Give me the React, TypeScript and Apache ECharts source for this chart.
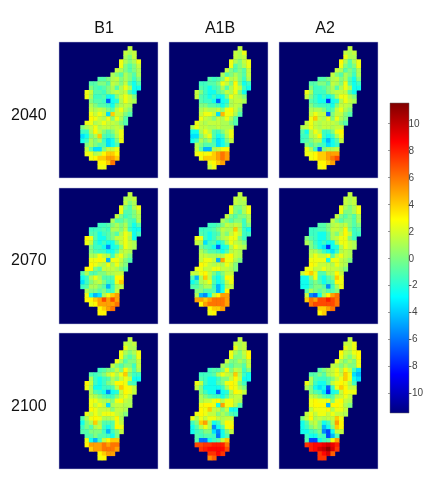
import React, { useEffect, useRef } from "react";
import * as echarts from "echarts";

const scenarios = ["B1", "A1B", "A2"];
const years = ["2040", "2070", "2100"];
const colTicks = [-10, -8, -6, -4, -2, 0, 2, 4, 6, 8, 10];
const jet = ["#00007f", "#0000ff", "#007fff", "#00ffff", "#7fff7f", "#ffff00", "#ff7f00", "#ff0000", "#7f0000"];
const COLS = 23;
const ROWS = 31;
const rowStart = [16, 15, 15, 14, 14, 13, 12, 9, 7, 7, 6, 6, 7, 7, 7, 7, 7, 6, 5, 5, 5, 5, 6, 6, 6, 7, 9, 9];

const b1y2040 = [[1.5],[1.5,1,1.5],[1,0,1.5],[2.5,1,0,1,2.5],[2.5,0,-1,0,1.5],[1.5,1,0,-1,0,1],[1,0,-1,1,0,-1,1],
[-1,-1,0,1,1.5,0,1,0,-1.5,0],[-1,-1,0,0,-1,1.5,1,0,1.5,-1,-2.5,-1],[0,-1,-1.5,-1,0,1,-1,1,2.5,1,-2.5,-2.5],
[2.5,1.5,-1,-1,-1.5,0,1,1.5,1,1.5,-1,-2.5],[2.5,1,-1.5,-1.5,-1,-2.5,-2.5,0,1.5,2.5,1.5,0],[0,-1,-1,-1.5,-6.5,-2.5,-2,1,2.5,1.5,1],
[1,0,-1,-1,-1.5,-2.5,0,1,1.5,1],[1.5,1,1.5,1,0,-1,1.5,2.5,1,0],[2.5,1.5,2.5,1.5,-3.5,4,1.5,1.5,0,-1],[3,2.5,1.5,1,2.5,0,2.5,1,-1],
[2.5,2.5,1,1.5,2.5,1.5,1.5,1,0,-1],[0,1,1.5,2.5,1,1.5,1.5,1,1.5,1],[-1.5,-1.5,1,3,1.5,0,-1,0,1.5,2.5],[-3.5,-2.5,0,1,4,-1,-1.5,-1,1,2.5],
[-2.5,-1.5,1,0,1,-1.5,-3.5,-2.5,0,2.5],[0,1,0,-1,-1,-3.5,-2.5,-1],[1.5,-1,-3.5,-3.5,0,1.5,1.5,2.5],[2.5,2.5,1,1.5,3,4,4,3],
[2.5,3,4,4,5,5,4],[3,3,4,6],[2.5,2.5]];
const a1by2040 = [[1.5],[1.5,1,2.5],[1.5,1,1.5],[2.5,1,0,1.5,2.5],[2.5,-1,0,1,2.5],[1.5,0,-1,0,-1,1.5],[1,-1,0,1,0,-1,1.5],
[-1,-1.5,-1,0,2.5,1,1.5,0,-1.5,1],[-1.5,-1.5,-1,-1,0,2.5,1.5,0,3,0,-2.5,-1.5],[-1,-1.5,-2.5,-1.5,-1,1,-1,1,2.5,1.5,-1.5,-2.5],
[1.5,0,-1.5,-2.5,-2.5,-1,0,1.5,1,2.5,0,-2.5],[1.5,-1,-1.5,-2.5,-1.5,-2.5,-2.5,0,2.5,1.5,1,0],[-1,-1.5,-1.5,-2.5,-6.5,-2.5,-2,1,1.5,1.5,1],
[0,0,-1,-1,-1.5,-2.5,-1,1,1.5,1],[1,1.5,1,1,1.5,0,2.5,3,1.5,0],[1.5,2.5,2.5,1.5,-3.5,4.5,2.5,2.5,1,-1],[2.5,1.5,1,0,1.5,1,2.5,1,-1],
[2.5,1.5,1,1.5,1.5,1.5,1,1,0,-1],[1,2.5,1.5,1.5,1,1,1.5,1,1,1],[-2.5,-2.5,1,2.5,1.5,-1,-1.5,0,1.5,2.5],[-3.5,-3.5,0,1.5,2.5,-1,-2.5,-1.5,1,2.5],
[-2.5,-1.5,1,0,1,-1.5,-3.5,-2.5,0,1.5],[1,0,-1,-1,-1,-3.5,-2.5,-1],[1.5,-1,-4.5,-4.5,1,1.5,2.5,3],[2.5,3,2.5,3,4,5,6,5],
[2.5,4,4,4,5,6,5],[2.5,3,4,5],[1.5,2.5]];
const a2y2040 = [[1.5],[1.5,1,1.5],[2.5,1,1],[3,1,-1,1,2.5],[2.5,0,-1,0,2.5],[1.5,1,-1,0,-1,1],[1.5,0,-1,1,0,-1.5,1],
[-1,-1,0,1,1.5,0,1,-1,-2.5,0],[-1,-1,0,0,-1,1.5,1,0,2.5,-1,-2.5,-1.5],[0,-1.5,-1.5,-1,0,1,-1,1,2.5,1,-2.5,-2.5],
[2.5,1,-1.5,-1.5,-1.5,0,1,1.5,1.5,1.5,-1,-2.5],[1.5,0,-1.5,-2.5,-1.5,-2.5,-1.5,1,2.5,2.5,1,0],[-1,-1.5,-2.5,-2.5,-7.5,-2.5,-2,1,2.5,1.5,1],
[0,-1,-1.5,-1.5,-1.5,-2.5,0,1.5,1.5,1],[1,1,1,0,-1.5,-1,1.5,2.5,1,0],[1.5,2.5,1.5,1.5,-6.5,0,1.5,1.5,0,-1],[2.5,4,1.5,1,2.5,0,2.5,1,0],
[1.5,2.5,1.5,1,1.5,1.5,1.5,1,0,-1],[1,1.5,2.5,1.5,1,1.5,1.5,1,1.5,1.5],[-1,-2.5,1,2.5,1.5,-1.5,-1.5,0,2.5,3],[-1.5,-1.5,1,1.5,3,-1.5,-2.5,-1.5,1,2.5],
[-1.5,-1,0,1,1,-2.5,-4.5,-2.5,-1,1.5],[0,-1,0,-1,-1.5,-3.5,-2.5,-1.5],[2.5,1,-1.5,-6.5,0,1,1,1.5],[2.5,2.5,3,4,4,5,5,5],
[2.5,3,4,4,5,6,7],[3,3,4,5],[2.5,3]];
const b1y2070 = [[1.5],[1,1,1.5],[1.5,0,1],[2.5,0,-1,1,2.5],[2.5,-1,-1,0,1.5],[1.5,0,-1.5,-1,0,1],[1,-1,-1,0,-1,-1.5,1],
[-1.5,-1.5,-1,0,1,0,1,-1,-2.5,-1],[-1.5,-1.5,-1.5,-1,-1.5,1,1,0,1.5,-1.5,-2.5,-2.5],[-1,-1,-2.5,-1.5,-1,0,-1,1,2.5,1.5,-2.5,-1.5],
[3,2.5,-1,-2.5,-2.5,-1,0,1.5,1.5,2.5,1,-2.5],[2.5,1.5,-1.5,-2.5,-1.5,-2.5,-2.5,0,1.5,2.5,1.5,1],[0,-1.5,-1.5,-2.5,-5.5,-2.5,-2,0,2.5,1.5,1],
[0,-1,-1.5,-1.5,-2.5,-2.5,-1,1,1.5,1],[1,1,2.5,1.5,1,-1.5,1.5,2.5,1,0],[2.5,2.5,3,2.5,-4.5,2.5,2.5,1.5,0,-1],[3,2.5,1.5,1,2.5,1,2.5,1,0],
[3,3,0,-1,1.5,1.5,1.5,1,0,-1],[-1,1,-1,-1,0,0,1,1,1.5,1.5],[-2.5,-1.5,1,2.5,1,-1,-1,-1,3,3],[-3.5,-1.5,0,1,1.5,0,-1.5,-1.5,2.5,4],
[-1.5,-1,1,1,0,-1,-4.5,-1.5,1,1.5],[1,0,0,-1,0,-1.5,-1.5,1.5],[2.5,-2.5,-4.5,-3.5,1,2.5,4,5],[3,3,4,5,7,5,7,5],
[2.5,3,5,5,5,5,6],[3,4,5,6],[3,3]];
const a1by2070 = [[1.5],[1.5,1,1.5],[1.5,1,1],[2.5,0,0,1,2.5],[2.5,0,-1,1,2.5],[1.5,0,-1,0,0,1],[1,0,-1,0,0,-1.5,1],
[-1.5,-1.5,-1,0,1.5,1,1.5,1,-1.5,0],[-1.5,-1.5,-1.5,-1,0,1.5,1,1,4,1,-1.5,-2.5],[-1,-1.5,-2.5,-1.5,-1,1,0,1.5,2.5,1.5,-1.5,-1.5],
[2.5,2.5,-1.5,-2.5,-1.5,0,1,1.5,2.5,2.5,0,-1.5],[1.5,1,-3.5,-1.5,-1,-2.5,-1.5,1,2.5,1.5,1,0],[0,-1,-1.5,-2.5,-6.5,-2.5,-2,1,2.5,1.5,1],
[1,0,-1,-1,-1.5,-2.5,-1,1,1.5,1],[1.5,1.5,1,1,1,1,2.5,3,1.5,1],[1.5,2.5,2.5,1.5,-4.5,5,2.5,2.5,1,0],[3,2.5,1.5,1,1.5,1,2.5,1.5,0],
[2.5,2.5,1.5,1.5,2.5,2.5,1.5,1.5,1,0],[1.5,1.5,2.5,3,1.5,0,-1.5,0,1.5,1.5],[-1,-4.5,1,4,1.5,-1.5,-2.5,-1,3,2.5],[-2.5,-1.5,1,1.5,2.5,-1,-2.5,-1.5,1.5,2.5],
[-1,-1,0,1,1,-1.5,-4.5,-2.5,1,1.5],[0,0,-1,-1,-1,-4.5,-2.5,3],[1,-4.5,-5.5,-2.5,1.5,3,5,5],[5,5,4,5,6,6,6,5],
[3,5,6,6,6,6,5],[3,4,4,5],[2.5,3]];
const a2y2070 = [[1.5],[1.5,1,1.5],[1.5,1,1.5],[2.5,1,0,1,2.5],[2.5,0,0,1,2.5],[1.5,0,-1,0,-1,1],[1.5,0,-1,0,0,-1,1],
[-1,-1,0,1,1.5,1,1.5,0,-1,0],[-1.5,-1.5,-1,-1,0,1.5,1.5,1,3,0,-1.5,-1],[-1.5,-1.5,-2.5,-2.5,-1,1,0,1.5,3,1.5,-1.5,-1.5],
[0,-1,-1.5,-2.5,-2.5,-1,1,1.5,2.5,2.5,0,-1.5],[1,0,-1.5,-2.5,-1.5,-2.5,-2.5,1,2.5,2.5,1.5,1],[0,-1,-2.5,-3.5,-7.5,-2.5,-2,1,2.5,1.5,1],
[1,1,0,-1.5,-2.5,-3.5,-1.5,1,1.5,1],[1.5,2.5,1.5,1.5,2.5,-1,1.5,2.5,1.5,1],[2.5,2.5,2.5,2.5,-2.5,2.5,2.5,1.5,1,0],[3,2.5,1.5,1.5,1.5,1,2.5,1.5,1],
[2.5,2.5,1.5,1.5,2.5,1.5,1.5,1.5,1,0],[1.5,3,4,2.5,-1,-1,1,1,3,1.5],[-2.5,-2.5,0,2.5,-1.5,-2.5,-1,0,4,2.5],[-2.5,-2.5,-1,0,-1,-2.5,-1.5,-1,3,2.5],
[-2.5,-2.5,-1,0,0,-1,-5.5,-1.5,1,2.5],[-1,1,0,-1,0,-1,-1,0],[1.5,-5.5,-6.5,-2.5,1,3,5,6],[4,6,5,7,7,8,7,6],
[6,7,7,7,7,7,6],[4,4,5,6],[3,4]];
const b1y2100 = [[1.5],[1.5,1,1.5],[2.5,1,1],[2.5,1,0,1,2.5],[2.5,0,-1,0,2.5],[2.5,1,-1,0,0,1.5],[1.5,0,-1,0,0,-1.5,1.5],
[-1.5,-1,0,0,1.5,0,3,1,-1,1],[-1,-1.5,-1,0,1.5,2.5,1,2.5,4,0,-1.5,-1.5],[1,-1.5,-2.5,-1.5,-1,1,0,1.5,2.5,1.5,-2.5,-2.5],
[3,1.5,-1.5,-2.5,-1.5,0,1,3,3,2.5,-1,-1.5],[2.5,1,-2.5,-2.5,-1.5,-1.5,-1,1.5,4,3,2.5,1.5],[1,-1,-1.5,-2.5,-5.5,-2.5,-2,1.5,3,2.5,1.5],
[1.5,1,0,-1,-1.5,-1.5,0,1.5,2.5,1.5],[2.5,2.5,1.5,1,1,0,2.5,3,1.5,1],[2.5,1.5,2.5,1.5,-3.5,1,1.5,1.5,1,1],[3,2.5,1.5,1.5,1.5,0,1.5,1.5,1],
[2.5,1.5,2.5,1.5,2.5,2.5,2.5,1.5,1,0],[-1,1,2.5,3,2.5,1,1,1.5,3,1],[-2.5,0,1,4,1,-1,-1,-1,2.5,1.5],[-1.5,0,-1,1,1.5,-1.5,-2.5,-1,3,2.5],
[-1,-1,0,0,0,-1.5,-4.5,-1.5,0,1.5],[-1,-1,0,-1,-1,-1.5,-2.5,0],[2.5,-2.5,-4.5,-1.5,1.5,3,4,4],[3,5,5,5,6,5,6,6],
[4,5,5,6,6,6,5],[3,4,5,5],[2.5,3]];
const a1by2100 = [[1.5],[1.5,1,1.5],[2.5,1,1.5],[2.5,1,0,1.5,3],[2.5,0,0,1,3],[1.5,0,0,1,0,1.5],[1,0,-1,0,0,-1,1.5],
[-1.5,-1,-1,0,2.5,0,1.5,1,-1.5,0],[-1.5,-1.5,-1.5,-1,1,2.5,1.5,1,4,1,-1.5,-2.5],[-1,-1.5,-2.5,-2.5,-1.5,0,0,1.5,3,1.5,-2.5,-2.5],
[2.5,1.5,-1.5,-2.5,-2.5,-1,0,2.5,3,2.5,0,-1.5],[1.5,0,-2.5,-2.5,-2.5,-2.5,-1.5,1,3,2.5,1,0],[0,-1.5,-2.5,-2.5,-6.5,-2.5,-2,1,3,2.5,1.5],
[1,0,-1,-1.5,-1.5,-2.5,-1,1,1.5,1.5],[1,1.5,1.5,2.5,3,1,2.5,2.5,1.5,1],[2.5,3,3,2.5,-2.5,5,2.5,2.5,1,-1],[3,2.5,4,1.5,1.5,0,1.5,-2.5,-2.5],
[2.5,3,2.5,1.5,1.5,0,1,0,-1,-1.5],[2.5,1,2.5,1.5,2.5,2.5,1.5,1,1.5,1.5],[-1.5,0,4,5,1,-2.5,-1.5,1,3,2.5],[-2.5,-1,1,2.5,1,-5.5,-2.5,-1,2.5,3],
[-2.5,-1.5,-1,0,0,-3.5,-5.5,-2.5,0,1.5],[-1,-1.5,-1,-1,-1.5,-6,-2.5,-1],[-1,-6,-6,-2.5,-1.5,-1,1.5,4],[7,7,7.5,7.5,8,8,8,6],
[7.5,8,8.5,8.5,8.5,8.5,7],[7.5,7.5,8.5,7.5],[5.5,6.5]];
const a2y2100 = [[1.5],[1.5,1.5,2.5],[2.5,1.5,2.5],[3,1.5,1,2.5,3],[2.5,1,0,1.5,3],[2.5,1,0,1,0,2.5],[1.5,1,0,1,0,0,2.5],
[-1,0,1,1.5,2.5,1,3,1.5,-1.5,-3.5],[-1,-1,0,-1,1,1.5,2.5,1.5,4,2.5,-3.5,-4.5],[1,-1,-1.5,-1.5,-1,0,1.5,2.5,4,2.5,-2.5,-3.5],
[2.5,1,-1.5,-2.5,-2.5,-1,1.5,2.5,3,2.5,1,-1.5],[1,0,-2.5,-3.5,-2.5,-6.5,-1.5,2.5,4,3,1.5,1.5],[0,-1,-1.5,-3.5,-7.5,-2.5,-2,1.5,3,2.5,2.5],
[1.5,1,0,-1,-1.5,-1,1,1.5,2.5,1.5],[2.5,3,2.5,2.5,2.5,0,2.5,3,1.5,1],[2.5,3,3,3,-4.5,3,3,2.5,1,0],[1.5,2.5,2.5,2.5,3,1,2.5,2.5,1.5],
[1.5,2.5,1.5,2.5,2.5,1.5,2.5,1.5,1.5,1],[0,1.5,3,1,1.5,1,1.5,1.5,4,2.5],[-2.5,-1,1,1.5,0,-2.5,-1.5,1,5,3],[-2.5,-1.5,0,1,0,-4.5,-2.5,0,4,3],
[-2.5,-2.5,-1.5,-1,0,-5.5,-7,-2.5,1.5,1.5],[-1.5,-2.5,-2.5,-1,-1.5,-7,-4.5,-1],[-1,-7,-7,-2.5,-1.5,-1,2.5,5],[7.5,8,8.5,8.5,9,9.5,9,8],
[8,8.5,9.5,10,11,9.5,7.5],[7.5,8.5,9.5,6.5],[7.5,7.5]];

const panels = [b1y2040, a1by2040, a2y2040, b1y2070, a1by2070, a2y2070, b1y2100, a1by2100, a2y2100];

const panelLefts = [59, 169, 279];
const panelTops = [42, 188, 333];
const panelW = 99;
const panelH = 136;
const vMin = -11.5;
const vMax = 11.5;

function toCells(rows: number[][]) {
  const out: number[][] = [];
  rows.forEach((vals, r) => vals.forEach((v, c) => out.push([rowStart[r] + c, r + 1, v])));
  return out;
}

export default function App() {
  const ref = useRef<HTMLDivElement>(null);
  useEffect(() => {
    const chart = echarts.init(ref.current!, undefined, { renderer: "svg" });
    const cats = (n: number) => Array.from({ length: n }, (_, i) => String(i));
    const grid: any[] = [];
    const xAxis: any[] = [];
    const yAxis: any[] = [];
    const series: any[] = [];
    panels.forEach((p, i) => {
      grid.push({
        left: panelLefts[i % 3], top: panelTops[Math.floor(i / 3)], width: panelW, height: panelH,
        show: true, backgroundColor: "#00006c", borderColor: "#b8bcd8", borderWidth: 0.5,
      });
      xAxis.push({ type: "category", gridIndex: i, data: cats(COLS), show: false });
      yAxis.push({ type: "category", gridIndex: i, data: cats(ROWS), inverse: true, show: false });
      series.push({ type: "heatmap", xAxisIndex: i, yAxisIndex: i, data: toCells(p), itemStyle: { borderWidth: 0 }, emphasis: { disabled: true } });
    });
    grid.push({ left: 390, top: 103, width: 19, height: 310 });
    xAxis.push({ type: "value", gridIndex: 9, show: false, min: 0, max: 1 });
    yAxis.push({
      type: "value", gridIndex: 9, position: "right", min: vMin, max: vMax, z: 20,
      axisLine: { show: false }, splitLine: { show: false },
      axisTick: { show: true, inside: true, length: 2, lineStyle: { color: "#555", width: 0.6 }, customValues: colTicks },
      axisLabel: { customValues: colTicks, color: "#444", fontSize: 10, fontFamily: "Liberation Sans", margin: 6, formatter: (v: number) => String(v) },
    });
    const rowLabelY = [114, 259, 405];
    const colLabelX = [104, 220, 325];
    const graphic = [
      {
        type: "rect", z: 1, shape: { x: 390, y: 103, width: 19, height: 310 },
        style: {
          fill: new echarts.graphic.LinearGradient(0, 1, 0, 0, jet.map((color, k) => ({ offset: k / (jet.length - 1), color }))),
          stroke: "#666", lineWidth: 0.5,
        },
      },
      ...scenarios.map((t, i) => ({
        type: "text", x: colLabelX[i], y: 27,
        style: { text: t, fill: "#111", font: "16px 'Liberation Sans'", align: "center", verticalAlign: "middle" },
      })),
      ...years.map((t, i) => ({
        type: "text", x: 11, y: rowLabelY[i],
        style: { text: t, fill: "#111", font: "16px 'Liberation Sans'", align: "left", verticalAlign: "middle" },
      })),
    ];
    chart.setOption({
      animation: false,
      backgroundColor: "#fff",
      tooltip: { show: false },
      grid, xAxis, yAxis, series, graphic,
      visualMap: {
        type: "continuous", show: false, min: vMin, max: vMax,
        seriesIndex: panels.map((_, i) => i),
        inRange: { color: jet },
      },
    });
    return () => chart.dispose();
  }, []);
  return (
    <div
      ref={ref}
      style={{ position: "absolute", left: 0, top: 0, width: 426, height: 484, filter: "blur(0.7px)" }}
    />
  );
}
